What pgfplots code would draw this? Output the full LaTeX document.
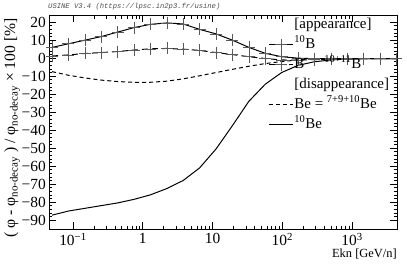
\documentclass[border=0pt]{standalone}
\usepackage{fontspec}
\setmainfont{Liberation Serif}
\newfontfamily\monofont{Liberation Mono}
\usepackage{pgfplots}
\pgfplotsset{compat=1.18}

\pgfplotstableread{
E       B10   B1011  Be     Be10
0.0501  6.0   1.2   -7.5   -87.3
0.0861  8.0   1.8   -9.5   -85.0
0.1479  10.0  2.6   -11.0  -83.5
0.2541  12.0  3.1   -12.2  -82.0
0.4365  14.5  3.7   -13.0  -80.5
0.7499  17.0  4.5   -13.4  -78.5
1.288   18.8  5.2   -13.4  -76.0
2.213   19.6  5.4   -12.8  -72.5
3.802   19.0  5.0   -11.5  -68.0
6.531   16.0  4.3   -9.8   -61.0
11.22   13.5  3.1   -8.0   -50.5
19.28   10.0  2.0   -6.2   -37.5
33.11   6.0   0.8   -4.5   -24.0
56.89   2.7  -0.2   -3.0   -14.5
97.72   0.8  -1.0   -1.9   -8.0
167.9   0.0  -1.1   -1.0   -4.0
288.4  -0.3  -0.8   -0.6   -2.0
495.5  -0.3  -0.5   -0.4   -1.0
851.1  -0.3  -0.4   -0.3   -0.5
1462   -0.3  -0.3   -0.3   -0.3
2512   -0.3  -0.3   -0.3   -0.3
4315   -0.3  -0.3   -0.3   -0.3
}\datatable

\begin{document}
\begin{tikzpicture}
\begin{axis}[
  scale only axis, width=348bp, height=214bp,
  xmode=log, xmin=0.0453, xmax=4400,
  ymin=-95, ymax=24,
  axis line style={line width=0.7bp},
  tick style={line width=0.6bp, black},
  tick align=inside,
  xtick={0.1,1,10,100,1000},
  xticklabels={10\textsuperscript{−1},1,10,10\textsuperscript{2},10\textsuperscript{3}},
  ytick={-90,-80,...,20},
  yticklabels={−90,−80,−70,−60,−50,−40,−30,−20,−10,0,10,20},
  minor y tick num=4,
  major tick length=7bp, minor tick length=3.5bp,
  tick label style={font=\fontsize{15.5}{15.5}\selectfont},
  yticklabel style={inner sep=1bp, xshift=-2bp},
  xticklabel style={inner sep=0pt, yshift=-4bp},
  xlabel={Ekn [GeV/n]},
  xlabel style={at={(rel axis cs:1,0)}, anchor=north east, yshift=-20bp, inner sep=0pt, font=\fontsize{12.5}{12.5}\selectfont},
  legend style={at={(rel axis cs:0.63,1)}, anchor=north west, yshift=-1bp, draw=none, fill=none,
    inner sep=0pt, row sep=3bp, font=\fontsize{15}{15}\selectfont,
    nodes={inner sep=1bp, text height=11bp, text depth=4bp}},
  legend cell align=left,
  legend image code/.code={\draw[mark repeat=2, mark phase=2] plot coordinates {(0bp,0bp) (12bp,0bp) (24bp,0bp)};},
  clip=true,
]
\addplot[black, line width=1bp, mark=+, mark size=6bp, mark options={solid, line width=0.6bp, black!65}, forget plot] table[x=E, y=B10] {\datatable};
\addplot[black, line width=1bp, dash pattern=on 6bp off 4bp, mark=+, mark size=6bp, mark options={solid, line width=0.6bp, black!65}, forget plot] table[x=E, y=B1011] {\datatable};
\addplot[black, line width=1bp, dash pattern=on 4bp off 3bp, forget plot] table[x=E, y=Be] {\datatable};
\addplot[black, line width=1bp, forget plot] table[x=E, y=Be10] {\datatable};

\addlegendimage{empty legend}\addlegendentry{[appearance]}
\addlegendimage{black, line width=1bp, mark=+, mark size=6bp, mark options={solid, line width=0.6bp, black!65}}\addlegendentry{\textsuperscript{10}B}
\addlegendimage{black, line width=1bp, dash pattern=on 6bp off 4bp, mark=+, mark size=6bp, mark options={solid, line width=0.6bp, black!65}}\addlegendentry{B\hspace{20bp}\textsuperscript{10+11}B}
\addlegendimage{empty legend}\addlegendentry{[disappearance]}
\addlegendimage{black, line width=1bp, dash pattern=on 4bp off 3bp}\addlegendentry{Be = \textsuperscript{7+9+10}Be}
\addlegendimage{black, line width=1bp}\addlegendentry{\textsuperscript{10}Be}

\coordinate (sw) at (rel axis cs:0,0);
\coordinate (ne) at (rel axis cs:1,1);
\coordinate (nw) at (rel axis cs:0,1);
\end{axis}
\node[anchor=base west, inner sep=0pt, font=\monofont\itshape\fontsize{7.2}{7.2}\selectfont, text=black!70] at ([xshift=-1bp, yshift=7bp]nw) {USINE V3.4 (https://lpsc.in2p3.fr/usine)};
\node[rotate=90, anchor=north east, inner sep=0pt, font=\fontsize{15.7}{15.7}\selectfont] at ([xshift=-45bp, yshift=-3bp]nw) {( φ - φ\textsubscript{no-decay} ) / φ\textsubscript{no-decay} × 100 [\%]};
\pgfresetboundingbox
\path ([shift={(-49bp,-36bp)}]sw) rectangle ([shift={(10bp,15bp)}]ne);
\end{tikzpicture}
\end{document}
